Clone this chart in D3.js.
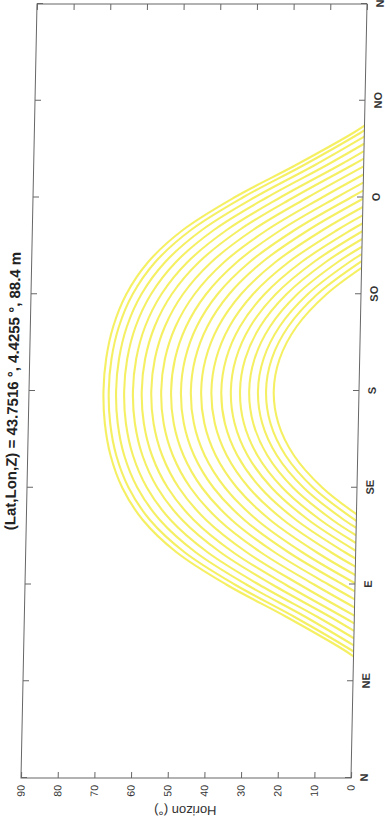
<!DOCTYPE html>
<html>
<head>
<meta charset="utf-8">
<script src="https://cdn.jsdelivr.net/npm/d3@7"></script>
<style>
  body { margin: 0; background: #fff; }
  text { font-family: "Liberation Sans", Arial, Helvetica, sans-serif; }
</style>
</head>
<body>
<svg id="chart" width="390" height="831"></svg>
<script>
const _ = null;

// --- data ---
const title = "(Lat,Lon,Z) = 43.7516 °, 4.4255 °, 88.4 m";
const yTitle = "Horizon (°)";
const azTicks = [0, 45, 90, 135, 180, 225, 270, 315, 360];
const azLabels = ["N", "NE", "E", "SE", "S", "SO", "O", "NO", "N"];
const horizonTicks = [0, 10, 20, 30, 40, 50, 60, 70, 80, 90];

// azimuths (deg from north) where the sun paths are sampled
const azimuthGrid = [60, 75, 90, 105, 120, 135, 150, 165, 180, 195, 210, 225, 240, 255, 270, 285, 300];

// where each path meets the horizon (0 deg)
const riseAz = [56.6, 58.8, 61.7, 65.0, 68.4, 71.9, 75.5, 79.3, 83.1, 86.8, 90.6, 94.4, 98.3, 102.1, 105.7, 109.3, 112.9, 116.4, 119.6, 122.7];
const setAz  = [303.4, 301.2, 298.3, 295.0, 291.6, 288.1, 284.5, 280.7, 276.9, 273.2, 269.4, 265.6, 261.7, 257.9, 254.3, 250.7, 247.1, 243.6, 240.4, 237.3];

// elevation (deg) of each path at azimuthGrid, null = below horizon
const elevations = [
  [3.07, 18.60, 35.12, 48.86, 58.23, 64.01, 67.39, 69.14, 69.69, 69.14, 67.39, 64.01, 58.23, 48.86, 35.12, 18.60, 3.07],
  [1.12, 16.40, 32.80, 46.66, 56.28, 62.28, 65.83, 67.68, 68.25, 67.68, 65.83, 62.28, 56.28, 46.66, 32.80, 16.40, 1.12],
  [_, 13.39, 29.64, 43.65, 53.58, 59.89, 63.66, 65.63, 66.25, 65.63, 63.66, 59.89, 53.58, 43.65, 29.64, 13.39, _],
  [_, 10.13, 26.24, 40.39, 50.65, 57.28, 61.28, 63.39, 64.05, 63.39, 61.28, 57.28, 50.65, 40.39, 26.24, 10.13, _],
  [_, 6.63, 22.58, 36.89, 47.48, 54.44, 58.69, 60.94, 61.65, 60.94, 58.69, 54.44, 47.48, 36.89, 22.58, 6.63, _],
  [_, 3.17, 18.98, 33.43, 44.34, 51.62, 56.10, 58.50, 59.25, 58.50, 56.10, 51.62, 44.34, 33.43, 18.98, 3.17, _],
  [_, _, 15.13, 29.73, 40.96, 48.57, 53.30, 55.85, 56.65, 55.85, 53.30, 48.57, 40.96, 29.73, 15.13, _, _],
  [_, _, 11.17, 25.91, 37.47, 45.42, 50.40, 53.10, 53.95, 53.10, 50.40, 45.42, 37.47, 25.91, 11.17, _, _],
  [_, _, 7.24, 22.12, 33.99, 42.27, 47.50, 50.35, 51.25, 50.35, 47.50, 42.27, 33.99, 22.12, 7.24, _, _],
  [_, _, 3.33, 18.34, 30.53, 39.13, 44.61, 47.60, 48.55, 47.60, 44.61, 39.13, 30.53, 18.34, 3.33, _, _],
  [_, _, _, 14.57, 27.07, 35.98, 41.71, 44.85, 45.85, 44.85, 41.71, 35.98, 27.07, 14.57, _, _, _],
  [_, _, _, 10.66, 23.48, 32.73, 38.71, 42.00, 43.05, 42.00, 38.71, 32.73, 23.48, 10.66, _, _, _],
  [_, _, _, 6.74, 19.88, 29.47, 35.70, 39.15, 40.25, 39.15, 35.70, 29.47, 19.88, 6.74, _, _, _],
  [_, _, _, 2.94, 16.40, 26.32, 32.80, 36.40, 37.55, 36.40, 32.80, 26.32, 16.40, 2.94, _, _, _],
  [_, _, _, _, 13.03, 23.28, 30.01, 33.75, 34.95, 33.75, 30.01, 23.28, 13.03, _, _, _, _],
  [_, _, _, _, 9.78, 20.34, 27.32, 31.21, 32.45, 31.21, 27.32, 20.34, 9.78, _, _, _, _],
  [_, _, _, _, 6.49, 17.39, 24.62, 28.66, 29.95, 28.66, 24.62, 17.39, 6.49, _, _, _, _],
  [_, _, _, _, 3.32, 14.55, 22.03, 26.21, 27.55, 26.21, 22.03, 14.55, 3.32, _, _, _, _],
  [_, _, _, _, _, 11.93, 19.65, 23.97, 25.35, 23.97, 19.65, 11.93, _, _, _, _, _],
  [_, _, _, _, _, 9.42, 17.37, 21.82, 23.25, 21.82, 17.37, 9.42, _, _, _, _, _]
];

// --- layout: chart is drawn landscape, then turned (the page is a tilted scan) ---
const W = 774, H = 330;
const svg = d3.select("#chart");
const g = svg.append("g")
  .attr("transform", `matrix(${16 / W},-1,1,0,21,778)`);

const x = d3.scaleLinear().domain([0, 360]).range([0, W]);
const y = d3.scaleLinear().domain([0, 90]).range([H, 0]);

g.append("clipPath").attr("id", "plotClip")
  .append("rect").attr("width", W).attr("height", H);

// sun paths
const line = d3.line()
  .x(d => x(d[0]))
  .y(d => y(d[1]))
  .curve(d3.curveCatmullRom.alpha(0.5));

const paths = elevations.map((row, i) => {
  const pts = [[riseAz[i], 0]];
  row.forEach((v, j) => { if (v !== null) pts.push([azimuthGrid[j], v]); });
  pts.push([setAz[i], 0]);
  return pts;
});

g.append("g").attr("clip-path", "url(#plotClip)")
  .selectAll("path").data(paths).join("path")
  .attr("d", line)
  .attr("fill", "none")
  .attr("stroke", "#f3ed48")
  .attr("stroke-width", 2.1)
  .attr("stroke-opacity", 0.85);

// axes, ticks pointing inward on all four sides
const axisColor = "#666";
const styleAxis = sel => {
  sel.select(".domain").remove();
  sel.selectAll(".tick line").attr("stroke", axisColor);
  sel.selectAll("text").attr("fill", "#333");
};

g.append("g").attr("transform", `translate(0,${H})`)
  .call(d3.axisBottom(x).tickValues(azTicks).tickSize(-6).tickPadding(9)
    .tickFormat((d, i) => azLabels[i]))
  .call(styleAxis)
  .selectAll("text").style("font-size", "11px").style("font-weight", "bold");

g.append("g")
  .call(d3.axisTop(x).tickValues(azTicks).tickSize(-6).tickFormat(""))
  .call(styleAxis);

g.append("g")
  .call(d3.axisLeft(y).tickValues(horizonTicks).tickSize(-6).tickPadding(7))
  .call(styleAxis)
  .selectAll("text").style("font-size", "10.5px");

g.append("g").attr("transform", `translate(${W},0)`)
  .call(d3.axisRight(y).tickValues(horizonTicks).tickSize(-6).tickFormat(""))
  .call(styleAxis);

g.append("rect")
  .attr("width", W).attr("height", H)
  .attr("fill", "none")
  .attr("stroke", axisColor)
  .attr("stroke-width", 1);

// titles
g.append("text")
  .attr("x", W / 2).attr("y", -11)
  .attr("text-anchor", "middle")
  .style("font-size", "15px").style("font-weight", "bold")
  .attr("fill", "#222")
  .text(title);

g.append("text")
  .attr("transform", `translate(-28,${H / 2}) rotate(-90)`)
  .attr("text-anchor", "middle")
  .style("font-size", "13px")
  .attr("fill", "#333")
  .text(yTitle);
</script>
</body>
</html>
